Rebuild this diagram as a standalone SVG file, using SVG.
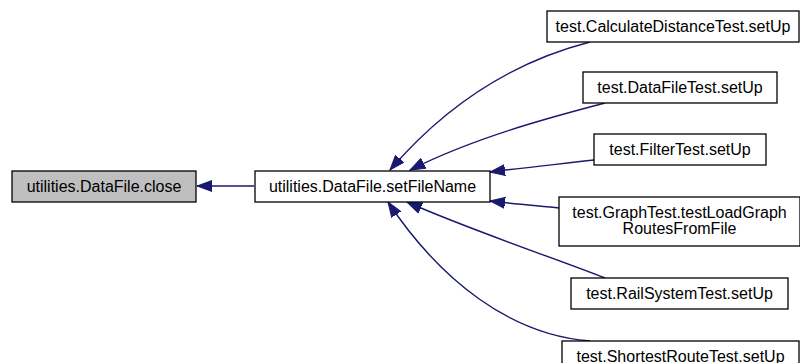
<svg xmlns="http://www.w3.org/2000/svg" width="800" height="363" viewBox="0 0 800 363">
  <style>
    .node rect { fill: #ffffff; stroke: #000000; stroke-width: 1.3; }
    .node.current rect { fill: #bfbfbf; }
    .node text { font-family: "Liberation Sans", Arial, sans-serif; font-size: 16px; text-anchor: middle; fill: #000000; }
    .edge { fill: none; stroke: #191970; stroke-width: 1.4; marker-end: url(#arrow); }
  </style>
  <defs>
    <marker id="arrow" markerUnits="userSpaceOnUse" markerWidth="16" markerHeight="12" viewBox="0 -6 16 12" refX="15" refY="0" orient="auto">
      <path d="M0,-5.5 L15,0 L0,5.5 Z" fill="#191970" stroke="#191970" stroke-width="1"/>
    </marker>
  </defs>

  <g id="connectors">
    <path class="edge" d="M254,186 L197,186"/>
    <path class="edge" d="M590,42 C520,60 450,100 390,170"/>
    <path class="edge" d="M605,103 C560,115 480,135 410,170"/>
    <path class="edge" d="M594,160 C560,164 530,167 490,172"/>
    <path class="edge" d="M559,208 C540,206 515,204 490,201"/>
    <path class="edge" d="M605,278 C560,260 470,230 407,202"/>
    <path class="edge" d="M590,341 C510,335 440,280 388,202"/>
  </g>

  <g id="node-close" class="node current">
    <rect x="12" y="171" width="184" height="31"/>
    <text x="104" y="191.5">utilities.DataFile.close</text>
  </g>
  <g id="node-setFileName" class="node">
    <rect x="255" y="171" width="235" height="31"/>
    <text x="372.5" y="191.5">utilities.DataFile.setFileName</text>
  </g>
  <g id="node-calculateDistance" class="node">
    <rect x="547" y="11" width="252" height="31"/>
    <text x="673" y="32">test.CalculateDistanceTest.setUp</text>
  </g>
  <g id="node-dataFileTest" class="node">
    <rect x="583" y="72" width="194" height="31"/>
    <text x="680" y="93">test.DataFileTest.setUp</text>
  </g>
  <g id="node-filterTest" class="node">
    <rect x="594" y="134" width="172" height="31"/>
    <text x="680" y="155">test.FilterTest.setUp</text>
  </g>
  <g id="node-graphTest" class="node">
    <rect x="559" y="197" width="241" height="49"/>
    <text x="679.5" y="218">test.GraphTest.testLoadGraph</text>
    <text x="679.5" y="234">RoutesFromFile</text>
  </g>
  <g id="node-railSystem" class="node">
    <rect x="571" y="278" width="217" height="31"/>
    <text x="679.5" y="299">test.RailSystemTest.setUp</text>
  </g>
  <g id="node-shortestRoute" class="node">
    <rect x="562" y="341" width="237" height="31"/>
    <text x="680.5" y="361.5">test.ShortestRouteTest.setUp</text>
  </g>
</svg>
